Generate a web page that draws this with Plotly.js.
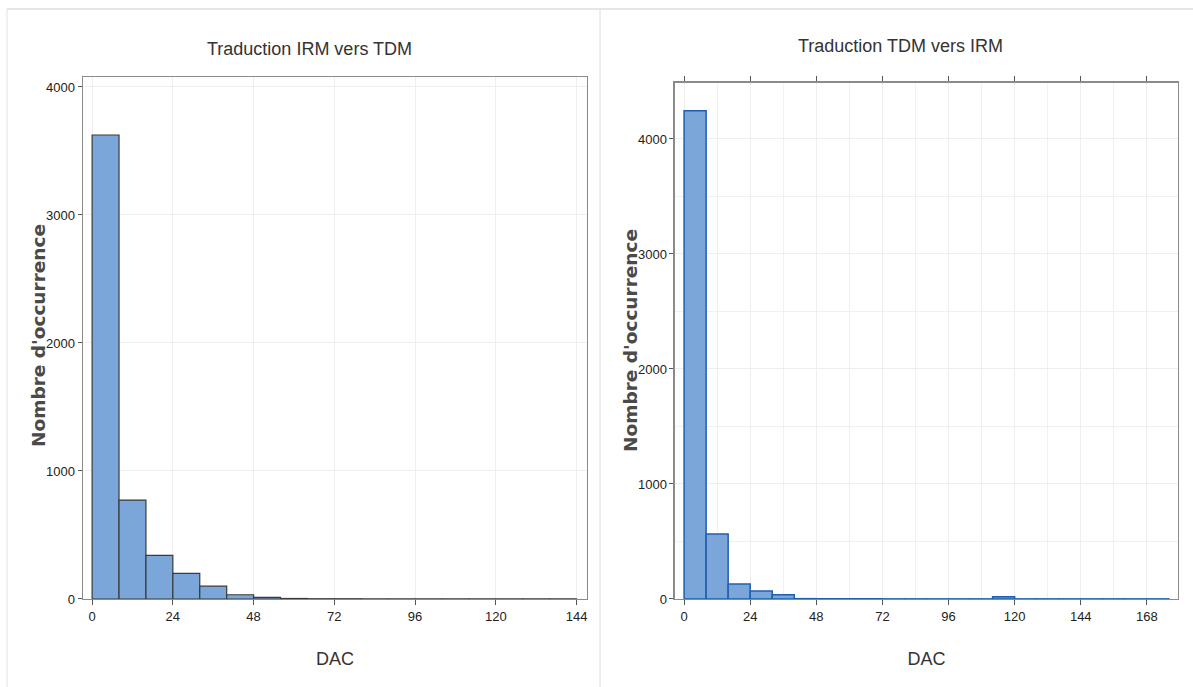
<!DOCTYPE html>
<html>
<head>
<meta charset="utf-8">
<script src="https://cdn.plot.ly/plotly-3.0.1.min.js"></script>
<style>html,body{margin:0;padding:0;background:#fff;}#chart{width:1193px;height:687px;}</style>
</head>
<body>
<div id="chart"></div>
<script>
// ---- data ----
const binWidth = 8;
const leftBinStarts = [0, 8, 16, 24, 32, 40, 48, 56, 64, 72, 80, 88, 96, 104, 112, 120, 128, 136];
const leftCounts    = [3625, 773, 340, 200, 100, 33, 12, 4, 2, 2, 1, 1, 1, 1, 1, 1, 1, 1];
const rightBinStarts = [0, 8, 16, 24, 32, 40, 48, 56, 64, 72, 80, 88, 96, 104, 112, 120, 128, 136, 144, 152, 160, 168];
const rightCounts    = [4245, 565, 130, 70, 38, 3, 2, 2, 2, 1, 1, 1, 1, 1, 20, 1, 1, 1, 1, 1, 1, 1];
const leftTitle = 'Traduction IRM vers TDM';
const rightTitle = 'Traduction TDM vers IRM';
const xLabel = 'DAC';
const yLabel = "Nombre d'occurrence";
const leftXTicks = [0, 24, 48, 72, 96, 120, 144];
const rightXTicks = [0, 24, 48, 72, 96, 120, 144, 168];
const yTicks = [0, 1000, 2000, 3000, 4000];

const fill = '#7BA6DA';
const sans = '"Liberation Sans", Arial, sans-serif';

const traces = [
  {type:'bar', x:leftBinStarts, y:leftCounts, width:binWidth, offset:0,
   marker:{color:fill, line:{color:'#3a3a3a', width:1.2}}, xaxis:'x', yaxis:'y', hoverinfo:'x+y'},
  {type:'bar', x:rightBinStarts, y:rightCounts, width:binWidth, offset:0,
   marker:{color:fill, line:{color:'#1f5fae', width:1.5}}, xaxis:'x2', yaxis:'y2', hoverinfo:'x+y'}
];

const tickFont = {family:sans, size:13, color:'#222'};
const xTitleFont = {family:sans, size:18, color:'#333'};
const yTitleFont = {family:'"DejaVu Sans", sans-serif', size:18.5, color:'#4a4a4a', weight:'bold'};

function xAxis(domain, range, ticks, extra){
  return Object.assign({
    domain:domain, range:range, tickvals:ticks, ticktext:ticks.map(String),
    showline:true, linecolor:'#8a8a8a', linewidth:1.5, mirror:true,
    ticks:'outside', ticklen:5, tickcolor:'#555', tickfont:tickFont,
    showgrid:true, gridcolor:'#eeeeee', zeroline:false,
    title:{text:xLabel, font:xTitleFont, standoff:29}
  }, extra||{});
}
function yAxis(domain, range, anchor, extra){
  return Object.assign({
    domain:domain, range:range, anchor:anchor, tickvals:yTicks, ticktext:yTicks.map(String),
    showline:true, linecolor:'#8a8a8a', linewidth:1.5, mirror:true,
    ticks:'outside', ticklen:4, tickcolor:'#555', tickfont:tickFont,
    showgrid:true, gridcolor:'#eeeeee', zeroline:false
  }, extra||{});
}

const layout = {
  width:1193, height:687, margin:{l:0, r:0, t:0, b:0},
  paper_bgcolor:'#fff', plot_bgcolor:'#fff', showlegend:false, bargap:0,
  xaxis: xAxis([0.0696, 0.4920], [-2.7, 147.1], leftXTicks, {anchor:'y'}),
  yaxis: yAxis([0.1281, 0.8879], [0, 4078], 'x'),
  xaxis2: xAxis([0.5658, 0.9874], [-3.3, 179.3], rightXTicks,
    {anchor:'y2', mirror:'ticks', minor:{dtick:12, tick0:0, showgrid:true, gridcolor:'#f0f0f0'}}),
  yaxis2: yAxis([0.1281, 0.8792], [0, 4487], 'x2',
    {minor:{dtick:500, tick0:0, showgrid:true, gridcolor:'#f0f0f0'}}),
  annotations:[
    {text:leftTitle, xref:'paper', yref:'paper', x:0.2598, y:(687-49)/687, xanchor:'center', yanchor:'middle',
     showarrow:false, font:{family:sans, size:18, color:'#333'}},
    {text:rightTitle, xref:'paper', yref:'paper', x:0.7548, y:(687-46)/687, xanchor:'center', yanchor:'middle',
     showarrow:false, font:{family:sans, size:18, color:'#333'}},
    {text:yLabel, xref:'paper', yref:'paper', x:38/1193, y:(687-336)/687, xanchor:'center', yanchor:'middle',
     textangle:-90, showarrow:false, font:yTitleFont},
    {text:yLabel, xref:'paper', yref:'paper', x:630/1193, y:(687-340)/687, xanchor:'center', yanchor:'middle',
     textangle:-90, showarrow:false, font:yTitleFont}
  ],
  shapes:[
    {type:'line', xref:'paper', yref:'paper', x0:7/1193, x1:1, y0:(687-9)/687, y1:(687-9)/687, line:{color:'#dcdcdc', width:1.5}},
    {type:'line', xref:'paper', yref:'paper', x0:7/1193, x1:7/1193, y0:0, y1:(687-9)/687, line:{color:'#e2e2e2', width:1}},
    {type:'line', xref:'paper', yref:'paper', x0:600/1193, x1:600/1193, y0:0, y1:(687-9)/687, line:{color:'#dcdcdc', width:1}}
  ]
};

Plotly.newPlot('chart', traces, layout, {displayModeBar:false, staticPlot:true});
</script>
</body>
</html>
